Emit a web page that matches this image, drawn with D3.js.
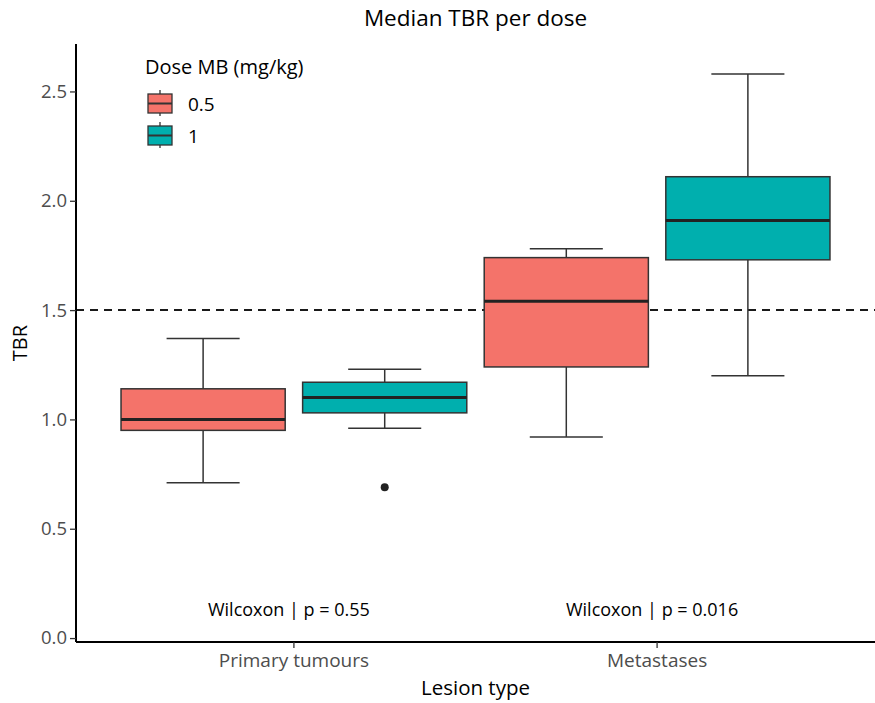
<!DOCTYPE html>
<html>
<head>
<meta charset="utf-8">
<script src="https://cdn.jsdelivr.net/npm/d3@7"></script>
<style>
  body { margin: 0; background: #fff; }
  text { font-family: "Open Sans", "Noto Sans", sans-serif; }
</style>
</head>
<body>
<div id="chart"></div>
<script>
// data
const lesionTypes = ["Primary tumours", "Metastases"];
const doses = ["0.5", "1"];
const doseColors = ["#F4736A", "#00AFAE"];

// [lesion, dose, lowerWhisker, q1, median, q3, upperWhisker]
const boxStats = [
  ["Primary tumours", "0.5", 0.71, 0.95, 1.00, 1.14, 1.37],
  ["Primary tumours", "1",   0.96, 1.03, 1.10, 1.17, 1.23],
  ["Metastases",      "0.5", 0.92, 1.24, 1.54, 1.74, 1.78],
  ["Metastases",      "1",   1.20, 1.73, 1.91, 2.11, 2.58]
];
const outliers = [["Primary tumours", "1", 0.69]];

const threshold = 1.5;
const pLabels = ["Wilcoxon | p = 0.55", "Wilcoxon | p = 0.016"];
const pLabelY = 0.13;
const yTicks = [0, 0.5, 1, 1.5, 2, 2.5];

const W = 875, H = 703;
const margin = {top: 44, right: 0, bottom: 61, left: 76};
const font = "'Open Sans', 'Noto Sans', sans-serif";

const svg = d3.select("#chart").append("svg")
  .attr("width", W)
  .attr("height", H);

const x = d3.scaleBand()
  .domain(lesionTypes)
  .range([margin.left, W - margin.right])
  .paddingInner(0)
  .paddingOuter(0.1);

// dodge inside each lesion band
const xSub = d3.scaleBand()
  .domain(doses)
  .range([-x.bandwidth() * 0.5, x.bandwidth() * 0.5])
  .paddingInner(0.096)
  .paddingOuter(0.048);

const y = d3.scaleLinear()
  .domain([-0.018, 2.717])
  .range([H - margin.bottom, margin.top]);

const color = d3.scaleOrdinal().domain(doses).range(doseColors);

// title
svg.append("text")
  .attr("x", (margin.left + W - margin.right) / 2)
  .attr("y", 26)
  .attr("text-anchor", "middle")
  .attr("font-size", 22.5)
  .attr("fill", "#000")
  .text("Median TBR per dose");

// threshold line
svg.append("line")
  .attr("x1", margin.left)
  .attr("x2", W - margin.right)
  .attr("y1", y(threshold))
  .attr("y2", y(threshold))
  .attr("stroke", "#1a1a1a")
  .attr("stroke-width", 2)
  .attr("stroke-dasharray", "8,6");

// boxes
const boxes = svg.append("g").selectAll("g.box")
  .data(boxStats)
  .join("g")
  .attr("class", "box")
  .attr("transform", d => "translate(" + (x(d[0]) + x.bandwidth() / 2 + xSub(d[1])) + ",0)");

const bw = xSub.bandwidth();
const capW = bw * 0.445;

boxes.append("line")
  .attr("x1", bw / 2).attr("x2", bw / 2)
  .attr("y1", d => y(d[6])).attr("y2", d => y(d[5]))
  .attr("stroke", "#333").attr("stroke-width", 1.5);
boxes.append("line")
  .attr("x1", bw / 2).attr("x2", bw / 2)
  .attr("y1", d => y(d[3])).attr("y2", d => y(d[2]))
  .attr("stroke", "#333").attr("stroke-width", 1.5);
boxes.append("line")
  .attr("x1", bw / 2 - capW / 2).attr("x2", bw / 2 + capW / 2)
  .attr("y1", d => y(d[6])).attr("y2", d => y(d[6]))
  .attr("stroke", "#333").attr("stroke-width", 1.5);
boxes.append("line")
  .attr("x1", bw / 2 - capW / 2).attr("x2", bw / 2 + capW / 2)
  .attr("y1", d => y(d[2])).attr("y2", d => y(d[2]))
  .attr("stroke", "#333").attr("stroke-width", 1.5);
boxes.append("rect")
  .attr("x", 0)
  .attr("width", bw)
  .attr("y", d => y(d[5]))
  .attr("height", d => y(d[3]) - y(d[5]))
  .attr("fill", d => color(d[1]))
  .attr("stroke", "#333")
  .attr("stroke-width", 1.5);
boxes.append("line")
  .attr("x1", 0).attr("x2", bw)
  .attr("y1", d => y(d[4])).attr("y2", d => y(d[4]))
  .attr("stroke", "#222").attr("stroke-width", 3);

svg.append("g").selectAll("circle")
  .data(outliers)
  .join("circle")
  .attr("cx", d => x(d[0]) + x.bandwidth() / 2 + xSub(d[1]) + bw / 2)
  .attr("cy", d => y(d[2]))
  .attr("r", 4)
  .attr("fill", "#222");

// wilcoxon labels
svg.append("g").selectAll("text")
  .data(lesionTypes)
  .join("text")
  .attr("x", d => x(d) + x.bandwidth() / 2 - 5)
  .attr("y", y(pLabelY))
  .attr("dy", "0.35em")
  .attr("text-anchor", "middle")
  .attr("font-size", 18)
  .attr("fill", "#000")
  .text((d, i) => pLabels[i]);

// axes
const yAxis = svg.append("g")
  .attr("transform", "translate(" + margin.left + ",0)")
  .call(d3.axisLeft(y).tickValues(yTicks).tickFormat(d3.format(".1f")).tickSize(6).tickPadding(3));
yAxis.select(".domain").attr("stroke", "#000").attr("stroke-width", 2).attr("d", "M0," + margin.top + "V" + (H - margin.bottom));
yAxis.selectAll(".tick line").attr("stroke", "#333").attr("stroke-width", 1.3);
yAxis.selectAll(".tick text").attr("fill", "#4d4d4d").attr("font-size", 18.5)
  .style("font-family", font);

const xAxis = svg.append("g")
  .attr("transform", "translate(0," + (H - margin.bottom) + ")")
  .call(d3.axisBottom(x).tickSize(6).tickPadding(6));
xAxis.select(".domain").attr("stroke", "#000").attr("stroke-width", 2).attr("d", "M" + margin.left + ",0H" + (W - margin.right));
xAxis.selectAll(".tick line").attr("stroke", "#333").attr("stroke-width", 1.3);
xAxis.selectAll(".tick text").attr("fill", "#4d4d4d").attr("font-size", 19)
  .style("font-family", font);

// axis titles
svg.append("text")
  .attr("x", (margin.left + W - margin.right) / 2)
  .attr("y", 695)
  .attr("text-anchor", "middle")
  .attr("font-size", 20.5)
  .text("Lesion type");

svg.append("text")
  .attr("transform", "translate(27," + ((margin.top + H - margin.bottom) / 2) + ") rotate(-90)")
  .attr("text-anchor", "middle")
  .attr("font-size", 20)
  .text("TBR");

// legend
const legend = svg.append("g").attr("transform", "translate(145,0)");
legend.append("text")
  .attr("x", 0)
  .attr("y", 74)
  .attr("font-size", 20)
  .text("Dose MB (mg/kg)");

const keys = legend.selectAll("g.key")
  .data(doses)
  .join("g")
  .attr("class", "key")
  .attr("transform", (d, i) => "translate(3," + (88 + i * 32) + ")");
keys.append("line")
  .attr("x1", 12).attr("x2", 12)
  .attr("y1", 2).attr("y2", 28)
  .attr("stroke", "#333").attr("stroke-width", 1.3);
keys.append("rect")
  .attr("x", 0).attr("y", 6)
  .attr("width", 24).attr("height", 19)
  .attr("fill", d => color(d))
  .attr("stroke", "#333").attr("stroke-width", 1.3);
keys.append("line")
  .attr("x1", 0).attr("x2", 24)
  .attr("y1", 15.5).attr("y2", 15.5)
  .attr("stroke", "#333").attr("stroke-width", 2);
keys.append("text")
  .attr("x", 40)
  .attr("y", 16)
  .attr("dy", "0.35em")
  .attr("font-size", 19)
  .text(d => d);
</script>
</body>
</html>
